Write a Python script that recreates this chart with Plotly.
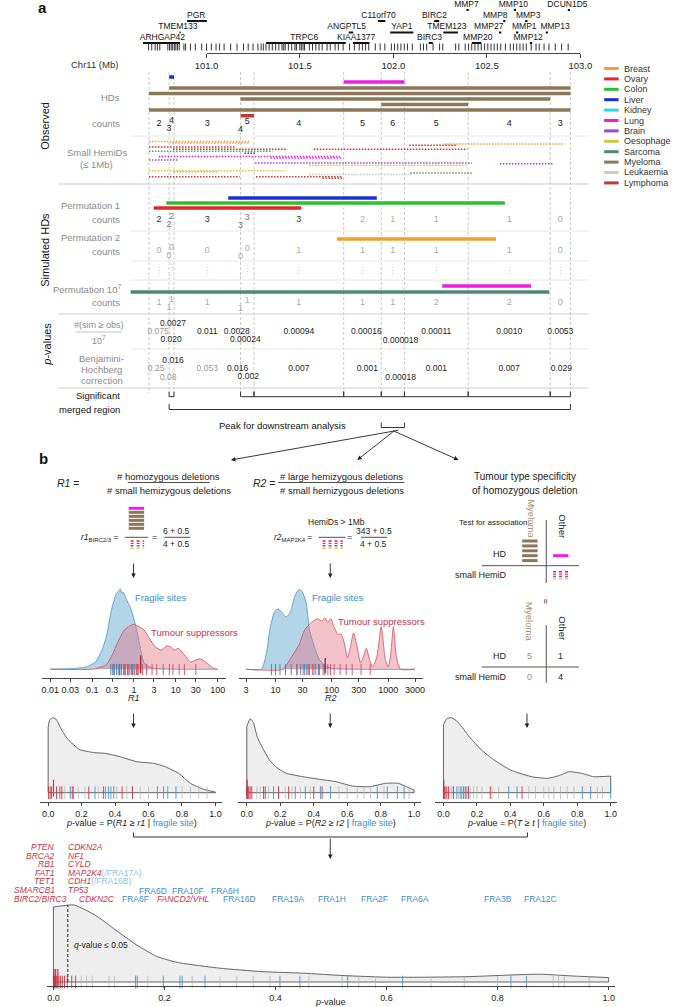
import plotly.graph_objects as go

W, H = 674, 1007
FONT = "Liberation Sans, Arial, Helvetica, sans-serif"

# ======================= DATA =======================
CANCER_TYPES = ["Breast", "Ovary", "Colon", "Liver", "Kidney", "Lung", "Brain",
                "Oesophage", "Sarcoma", "Myeloma", "Leukaemia", "Lymphoma"]

GENE_NAMES = ["MMP7", "MMP10", "DCUN1D5",
              "PGR", "C11orf70", "BIRC2", "MMP8", "MMP3",
              "TMEM133", "ANGPTL5", "YAP1", "TMEM123", "MMP27", "MMP1", "MMP13",
              "ARHGAP42", "TRPC6", "KIAA1377", "BIRC3", "MMP20", "MMP12"]
GENE_START = [102.391, 102.644, 102.933,
              100.896, 101.917, 102.218, 102.587, 102.705,
              100.855, 101.761, 101.983, 102.267, 102.565, 102.656, 102.815,
              100.660, 101.319, 101.783, 102.189, 102.420, 102.730]
GENE_END = [102.403, 102.656, 102.945,
            101.002, 101.957, 102.245, 102.599, 102.717,
            100.862, 101.785, 102.107, 102.345, 102.577, 102.668, 102.827,
            100.858, 101.745, 101.872, 102.211, 102.470, 102.742]
GENE_TRACK = [0, 0, 0, 1, 1, 1, 1, 1, 2, 2, 2, 2, 2, 2, 2, 3, 3, 3, 3, 3, 3]
GENE_RUG = [100.690, 100.707, 100.725, 100.737, 100.750, 100.793, 100.802, 100.811, 100.819,
            100.828, 100.836, 100.845, 100.854, 100.879, 100.888, 100.914, 100.940, 100.974,
            101.000, 101.026, 101.051, 101.069, 101.094, 101.129, 101.163, 101.198, 101.223,
            101.249, 101.275, 101.292, 101.304, 101.318, 101.335, 101.352, 101.370, 101.387,
            101.404, 101.413, 101.421, 101.438, 101.456, 101.473, 101.481, 101.499, 101.507,
            101.516, 101.524, 101.550, 101.567, 101.585, 101.602, 101.619, 101.645, 101.662,
            101.688, 101.705, 101.731, 101.765, 101.791, 101.817, 101.834, 101.851, 101.868,
            101.903, 101.929, 101.954, 101.989, 102.006, 102.023, 102.040, 102.058, 102.075,
            102.101, 102.144, 102.161, 102.178, 102.212, 102.247, 102.264, 102.333, 102.350,
            102.384, 102.402, 102.419, 102.436, 102.453, 102.470, 102.488, 102.505, 102.522,
            102.539, 102.556, 102.574, 102.599, 102.625, 102.642, 102.660, 102.677, 102.694,
            102.711, 102.737, 102.763, 102.780, 102.806, 102.832, 102.866, 102.900, 102.935]
AXIS_TICKS = [101.0, 101.5, 102.0, 102.5, 103.0]
AXIS_TICK_TEXT = ["101.0", "101.5", "102.0", "102.5", "103.0"]

BREAKPOINTS = [100.692, 100.800, 100.826, 101.182, 101.254, 101.734,
               101.935, 102.059, 102.400, 102.839, 102.947]

OBS_HD_TYPE = ["Liver", "Lung", "Myeloma", "Myeloma", "Myeloma", "Myeloma", "Myeloma", "Lymphoma"]
OBS_HD_START = [100.800, 101.734, 100.800, 100.692, 101.182, 101.935, 100.692, 101.182]
OBS_HD_END = [100.826, 102.059, 102.947, 102.947, 102.839, 102.400, 102.947, 101.254]

HEMI_TYPE = ["Breast", "Breast", "Breast", "Ovary", "Ovary", "Ovary", "Ovary", "Colon", "Liver",
             "Lung", "Lung", "Brain", "Brain", "Brain", "Oesophage", "Oesophage", "Oesophage",
             "Leukaemia", "Myeloma", "Lymphoma", "Lymphoma", "Lymphoma"]
HEMI_START = [100.692, 100.816, 102.271, 100.692, 100.821, 101.574, 102.085, 100.692, 101.203,
              100.744, 101.342, 100.692, 101.260, 102.570, 101.549, 100.692, 100.826,
              101.549, 102.090, 100.692, 101.265, 101.621]
HEMI_END = [101.239, 101.234, 102.916, 101.156, 101.430, 102.395, 102.343, 101.352, 101.265,
            101.714, 101.724, 100.847, 102.420, 102.859, 102.395, 101.419, 101.058,
            102.100, 102.420, 101.177, 101.729, 101.729]

PERM1_TYPE = ["Liver", "Colon", "Ovary"]
PERM1_START = [101.116, 100.785, 100.718]
PERM1_END = [101.911, 102.596, 101.507]
PERM2_TYPE = ["Breast"]
PERM2_START = [101.698]
PERM2_END = [102.549]
PERM7_TYPE = ["Lung", "Sarcoma"]
PERM7_START = [102.261, 100.594]
PERM7_END = [102.736, 102.834]

OBS_COUNTS = [2, 3, 4, 3, 4, 5, 4, 5, 6, 5, 4, 3]
PERM1_COUNTS = [2, 2, 2, 3, 3, 3, 3, 2, 1, 1, 1, 0]
PERM2_COUNTS = [0, 0, 0, 0, 0, 0, 1, 1, 1, 1, 1, 0]
PERM7_COUNTS = [1, 1, 1, 1, 1, 1, 1, 1, 1, 2, 2, 0]
EMP_P = ["0.075", "0.020", "0.0027", "0.011", "0.0028", "0.00024", "0.00094",
         "0.00016", "0.000018", "0.00011", "0.0010", "0.0053"]
BH_P = ["0.25", "0.08", "0.016", "0.053", "0.016", "0.002", "0.007",
        "0.001", "0.00018", "0.001", "0.007", "0.029"]
SIG_REGIONS = [1, 3, 4, 5, 6, 7, 8, 9]   # indices of breakpoint intervals
MERGED_REGION = (1, 10)
PEAK_REGION = (6, 7)

# ---- panel b data ----
R1_HD_TYPES = ["Lung", "Myeloma", "Myeloma", "Myeloma", "Myeloma", "Myeloma"]
R1_SMALL_TYPES = ["Ovary", "Lung", "Brain", "Oesophage"]
R2_LARGE = 343
R2_SMALL_TYPES = ["Ovary", "Lung", "Brain", "Oesophage"]
TABLE_HD = {"Myeloma": 5, "Other": 1}
TABLE_SMALL = {"Myeloma": 0, "Other": 4}

R1_TICKS = [0.01, 0.03, 0.1, 0.3, 1, 3, 10, 30, 100]
R1_TICK_TEXT = ["0.01", "0.03", "0.1", "0.3", "1", "3", "10", "30", "100"]
R2_TICKS = [3, 10, 30, 100, 300, 1000, 3000]
R2_TICK_TEXT = ["3", "10", "30", "100", "300", "1000", "3000"]

R1_FRAG_X = [0.01, 0.038, 0.074, 0.12, 0.166, 0.22, 0.29, 0.37, 0.42, 0.47, 0.52, 0.56,
             0.66, 0.82, 0.99, 1.16, 1.40, 1.74, 2.3, 3.2, 10, 100]
R1_FRAG_D = [0.0, 0.01, 0.03, 0.09, 0.22, 0.41, 0.74, 0.93, 0.97, 1.0, 0.95, 0.96,
             0.87, 0.77, 0.63, 0.49, 0.28, 0.08, 0.03, 0.01, 0.0, 0.0]
R1_TSG_X = [0.01, 0.1, 0.21, 0.29, 0.42, 0.59, 0.79, 1.0, 1.32, 1.74, 2.3, 3.2, 4.6, 6.0, 7.4,
            9.2, 11.4, 16, 22.5, 31.6, 39, 54, 71, 90, 100]
R1_TSG_D = [0.0, 0.0, 0.05, 0.16, 0.35, 0.49, 0.54, 0.56, 0.53, 0.49, 0.39, 0.28, 0.24, 0.29,
            0.28, 0.24, 0.26, 0.18, 0.09, 0.12, 0.13, 0.08, 0.03, 0.0, 0.0]
R1_RUG_FRAG = [0.28, 0.31, 0.34, 0.38, 0.42, 0.46, 0.5, 0.56, 0.62, 0.7, 0.8, 0.92, 1.05, 1.2]
R1_RUG_TSG = [0.33, 0.45, 0.6, 0.75, 0.88, 1.0, 1.15, 1.3, 1.6, 2.0, 2.7, 3.5, 5.0, 7.0,
              8.5, 12, 16, 30]

R2_FRAG_X = [3, 5.6, 6.9, 7.9, 9.4, 10.7, 12.6, 15.5, 18.5, 22, 26, 29.6, 35, 40, 49, 60,
             77, 100, 3000]
R2_FRAG_D = [0.0, 0.0, 0.2, 0.49, 0.70, 0.75, 0.72, 0.65, 0.72, 0.91, 0.995, 0.97, 0.83,
             0.49, 0.28, 0.12, 0.04, 0.01, 0.0]
R2_TSG_X = [3, 13.7, 18, 26, 33, 43, 56, 66, 75, 85, 96, 109, 130, 145, 166, 190, 214, 243,
            281, 323, 365, 410, 468, 534, 632, 754, 890, 1000, 1100, 1240, 1400, 1660, 3000]
R2_TSG_D = [0.0, 0.0, 0.12, 0.30, 0.49, 0.58, 0.63, 0.60, 0.64, 0.58, 0.63, 0.53, 0.43, 0.44,
            0.33, 0.14, 0.28, 0.45, 0.28, 0.08, 0.16, 0.26, 0.12, 0.03, 0.16, 0.53, 0.12, 0.03,
            0.16, 0.53, 0.16, 0.0, 0.0]
R2_RUG_FRAG = [8.5, 10, 12, 15, 19, 24, 28, 33, 36, 40, 48, 58, 75]
R2_RUG_TSG = [24, 31, 38, 45, 52, 60, 70, 85, 95, 110, 140, 180, 230, 330, 480]

P1_X = [0, 0.01, 0.03, 0.05, 0.08, 0.12, 0.19, 0.28, 0.34, 0.43, 0.53, 0.63, 0.70, 0.78,
        0.85, 0.93, 1.0]
P1_D = [3.25, 3.65, 3.75, 3.65, 3.15, 2.65, 2.15, 2.0, 1.97, 1.8, 1.55, 1.47, 1.3, 0.97,
        0.47, 0.17, 0.03]
P2_X = [0, 0.02, 0.04, 0.062, 0.10, 0.136, 0.18, 0.236, 0.335, 0.434, 0.533, 0.633, 0.732,
        0.831, 0.906, 0.955, 1.0]
P2_D = [3.3, 3.7, 3.5, 2.8, 2.15, 1.63, 1.25, 0.97, 0.8, 0.67, 0.55, 0.33, 0.3, 0.47, 0.47,
        0.3, 0.13]
P3_X = [0, 0.02, 0.05, 0.09, 0.154, 0.228, 0.303, 0.402, 0.526, 0.625, 0.70, 0.749, 0.824,
        0.898, 1.0]
P3_D = [3.4, 3.7, 3.75, 3.5, 2.8, 2.13, 1.63, 1.13, 0.8, 0.72, 0.88, 1.05, 0.97, 0.8, 0.83]
PALL_X = [0, 0.037, 0.075, 0.112, 0.15, 0.187, 0.225, 0.30, 0.375, 0.45, 0.524, 0.6, 0.674,
          0.75, 0.824, 0.876, 0.936, 1.0]
PALL_D = [3.75, 3.85, 3.35, 2.6, 1.85, 1.27, 0.97, 0.69, 0.52, 0.44, 0.32, 0.24, 0.24, 0.27,
          0.35, 0.39, 0.3, 0.22]

P1_RUG_TSG = [0.002, 0.012, 0.02, 0.05, 0.07, 0.082, 0.144, 0.243, 0.33, 0.442, 0.504]
P1_RUG_FRAG = [0.132, 0.151, 0.28, 0.342, 0.36, 0.375, 0.392, 0.504, 0.653, 0.69, 0.715, 0.764]
P1_RUG_OTHER = [0.1, 0.18, 0.22, 0.3, 0.41, 0.47, 0.55, 0.6, 0.8, 0.85, 0.9, 0.95]
P1_TSG_TALL = [0.032]
P2_RUG_TSG = [0.0, 0.003, 0.007, 0.012, 0.02, 0.03, 0.1, 0.11, 0.19, 0.25, 0.4, 0.45]
P2_RUG_FRAG = [0.16, 0.19, 0.29, 0.35, 0.44, 0.5, 0.78, 0.84, 0.9, 0.94]
P2_RUG_OTHER = [0.06, 0.08, 0.13, 0.23, 0.27, 0.32, 0.38, 0.55, 0.6, 0.66, 0.7, 0.74, 0.82, 0.97]
P2_TSG_TALL = [0.002]
P3_RUG_TSG = [0.0, 0.002, 0.005, 0.01, 0.02, 0.03, 0.06, 0.13, 0.15, 0.28, 0.47]
P3_RUG_FRAG = [0.08, 0.1, 0.11, 0.12, 0.14, 0.39, 0.44, 0.83, 0.88, 1.0]
P3_RUG_OTHER = [0.04, 0.05, 0.06, 0.09, 0.16, 0.18, 0.2, 0.23, 0.29, 0.33, 0.51, 0.55, 0.6,
                0.63, 0.66, 0.7, 0.74, 0.78, 0.92, 0.95]
P3_TSG_TALL = [0.002]
PALL_RUG_TSG = [0.0, 0.001, 0.002, 0.003, 0.005, 0.007, 0.01, 0.013, 0.016, 0.02, 0.025,
                0.033, 0.04]
PALL_RUG_FRAG = [0.148, 0.151, 0.198, 0.228, 0.232, 0.273, 0.408, 0.444, 0.53, 0.629, 0.824,
                 0.852]
PALL_RUG_OTHER = [0.05, 0.06, 0.07, 0.1, 0.11, 0.17, 0.25, 0.3, 0.33, 0.36, 0.39, 0.46, 0.52,
                  0.55, 0.58, 0.68, 0.74, 0.8, 0.9, 0.91, 0.92, 0.965]
PALL_TSG_TALL = [0.001, 0.004, 0.008]
Q_THRESHOLD_P = 0.026

TSG_LEFT = ["PTEN", "BRCA2", "RB1", "FAT1", "TET1", "SMARCB1", "BIRC2/BIRC3"]
TSG_RIGHT = ["CDKN2A", "NF1", "CYLD", "MAP2K4", "CDH1", "TP53", ""]
TSG_RIGHT_FRA = ["", "", "", "(/FRA17A)", "(/FRA16B)", "", ""]
FRA_ROW1 = ["FRA6D", "FRA10F", "FRA6H"]
FRA_ROW2 = ["FRA6F", "FANCD2/VHL", "FRA16D", "FRA19A", "FRA1H", "FRA2F", "FRA6A",
            "FRA3B", "FRA12C"]

# ======================= STYLE / LAYOUT CONSTANTS =======================
COL = {"Breast": "#f5a02a", "Ovary": "#e3262b", "Colon": "#2dbf2d", "Liver": "#1a2fd6",
       "Kidney": "#2ad8e8", "Lung": "#ee1ee0", "Brain": "#a044d6", "Oesophage": "#cfc83c",
       "Sarcoma": "#4d8a72", "Myeloma": "#8d7759", "Leukaemia": "#c9c9c9",
       "Lymphoma": "#bf3b33"}
FRAG_BLUE = "#3b8fc6"
TSG_RED = "#cc3344"
GREY_TXT = "#8a8a8a"
TAN = "#a48e6e"
GENE_LABEL_Y = [4.5, 15.5, 27, 38]
GENE_BAR_Y = [10, 21, 32.5, 43]
GENE_LABEL_SHIFT = {"MMP7": -0.006, "MMP10": -0.008, "DCUN1D5": -0.008, "PGR": -0.004,
                    "C11orf70": -0.017, "BIRC2": -0.012, "MMP8": -0.048, "MMP3": 0.01,
                    "TMEM133": -0.012, "ANGPTL5": -0.023, "TMEM123": -0.02, "MMP27": -0.061,
                    "MMP1": 0.038, "MMP13": 0.044, "ARHGAP42": 0.005, "TRPC6": -0.009,
                    "KIAA1377": -0.027, "BIRC3": -0.007, "MMP20": 0.006, "MMP12": -0.015}
OBS_HD_Y = [77, 82, 88, 93.5, 99, 104.5, 110, 115.7]
HEMI_Y = [141.5, 143, 144, 147, 149.2, 149.2, 145.3, 151.3, 153.2, 156.5, 158, 160, 163,
          163.7, 165.5, 170.7, 171.8, 174.5, 173, 176.8, 176.8, 178.2]
PERM1_Y = [198, 203, 208]
PERM2_Y = [239]
PERM7_Y = [286, 292]
PX_PER_MB = 193.8

fig = go.Figure()


def add_line(xs, ys, color, width, dash=None, xa="x", ya="y", shape="linear", fill=None,
             fillcolor=None, smoothing=None):
    ln = dict(color=color, width=width, shape=shape)
    if dash:
        ln["dash"] = dash
    if smoothing is not None:
        ln["smoothing"] = smoothing
    kw = {}
    if fill:
        kw["fill"] = fill
        kw["fillcolor"] = fillcolor
    fig.add_trace(go.Scatter(x=xs, y=ys, mode="lines", line=ln, xaxis=xa, yaxis=ya,
                             hoverinfo="skip", showlegend=False, **kw))


def add_text(xs, ys, texts, colors, size=9, xa="x", ya="y", italic=False):
    fig.add_trace(go.Scatter(x=xs, y=ys, mode="text", text=texts,
                             textfont=dict(family=FONT, size=size, color=colors,
                                           style="italic" if italic else "normal"),
                             textposition="middle center", xaxis=xa, yaxis=ya,
                             hoverinfo="skip", showlegend=False, cliponaxis=False))


def add_rug(xs, y, color, size, xa, ya, width=1.0):
    fig.add_trace(go.Scatter(x=xs, y=[y] * len(xs), mode="markers",
                             marker=dict(symbol="line-ns", size=size,
                                         line=dict(width=width, color=color)),
                             xaxis=xa, yaxis=ya, hoverinfo="skip", showlegend=False,
                             cliponaxis=False))


ann = []
shapes = []


def A(x, y, text, size=9, color="#222", xa="center", ya="middle", angle=0):
    ann.append(dict(x=x / W, y=1 - y / H, xref="paper", yref="paper", text=text,
                    showarrow=False, font=dict(family=FONT, size=size, color=color),
                    xanchor=xa, yanchor=ya, textangle=angle))


def ARROW(x0, y0, x1, y1, width=0.9):
    ann.append(dict(x=x1 / W, y=1 - y1 / H, xref="paper", yref="paper", ax=x0 - x1,
                    ay=y0 - y1, axref="pixel", ayref="pixel", showarrow=True, arrowhead=2,
                    arrowsize=1, arrowwidth=width, arrowcolor="#222", text=""))


def L(x0, y0, x1, y1, color="#222", width=0.8, dash=None):
    ln = dict(color=color, width=width)
    if dash:
        ln["dash"] = dash
    shapes.append(dict(type="line", xref="paper", yref="paper", x0=x0 / W, x1=x1 / W,
                       y0=1 - y0 / H, y1=1 - y1 / H, line=ln))


# ======================= PANEL A =======================
A(32, 8, "<b>a</b>", size=15, color="#111")

# breakpoint dashed lines
xs, ys = [], []
for b in BREAKPOINTS:
    xs += [b, b, None]
    ys += [72, 393, None]
add_line(xs, ys, "#bdbdbd", 0.8, dash="3px,2px")

# genes
xs, ys = [], []
for s, e, t in zip(GENE_START, GENE_END, GENE_TRACK):
    xs += [s, e, None]
    ys += [GENE_BAR_Y[t], GENE_BAR_Y[t], None]
add_line(xs, ys, "#111", 2)
add_text([(s + e) / 2 + GENE_LABEL_SHIFT.get(n, 0) for n, s, e in zip(GENE_NAMES, GENE_START, GENE_END)],
         [GENE_LABEL_Y[t] for t in GENE_TRACK], GENE_NAMES, "#111", size=8.5)
add_rug(GENE_RUG, 47, "#333", 5, "x", "y", width=1)

# genomic axis (dummy trace for axis x2)
fig.add_trace(go.Scatter(x=[101], y=[-50], xaxis="x2", yaxis="y", mode="markers",
                         marker=dict(opacity=0), hoverinfo="skip", showlegend=False))
A(86, 65, "Chr11 (Mb)", size=9.5, color="#333")

# observed HDs
for t, s, e, y in zip(OBS_HD_TYPE, OBS_HD_START, OBS_HD_END, OBS_HD_Y):
    add_line([s, e], [y, y], COL[t], 3.5)
# small hemizygous deletions
for t, s, e, y in zip(HEMI_TYPE, HEMI_START, HEMI_END, HEMI_Y):
    add_line([s, e], [y, y], COL[t], 1.6, dash="1.5px,1.5px")
# simulated HDs
for T_, S_, E_, Y_ in [(PERM1_TYPE, PERM1_START, PERM1_END, PERM1_Y),
                       (PERM2_TYPE, PERM2_START, PERM2_END, PERM2_Y),
                       (PERM7_TYPE, PERM7_START, PERM7_END, PERM7_Y)]:
    for t, s, e, y in zip(T_, S_, E_, Y_):
        add_line([s, e], [y, y], COL[t], 3.5)

# label slots from breakpoints
mids = [(BREAKPOINTS[i] + BREAKPOINTS[i + 1]) / 2 for i in range(10)]
SLOT_X = [mids[0], BREAKPOINTS[1], mids[1], mids[2], BREAKPOINTS[3], mids[3]] + mids[4:]
COUNT_DY = [0, 5, -3, 0, 6, -2, 0, 0, 0, 0, 0, 0]
add_text(SLOT_X, [124 + d for d in COUNT_DY], [str(c) for c in OBS_COUNTS], "#222", size=9)
p1_cols = ["#333", "#777", "#777", "#333", "#777", "#777", "#333"] + ["#aaa"] * 5
add_text(SLOT_X, [220 + d for d in COUNT_DY], [str(c) for c in PERM1_COUNTS], p1_cols, size=9)
add_text(SLOT_X, [251 + d for d in COUNT_DY], [str(c) for c in PERM2_COUNTS], "#aaa", size=9)
add_text(SLOT_X, [303 + d for d in COUNT_DY], [str(c) for c in PERM7_COUNTS], "#aaa", size=9)
add_text(SLOT_X, [272 + d for d in COUNT_DY], ["\u22ee"] * 12, "#c4c4c4", size=9)

EMP_DX = [-1, 2, 1.5, 0, -4, -2, 0, 4, 8, 0, 0, 0]
EMP_DY = [0, 8, -8, 0, 0, 8, 0, 0, 9, 0, 0, 0]
BH_DX = [-3, -1, 1.5, 0, -3, 1, 0, 5, 8, 0, 0, 1]
BH_DY = [0, 9, -8, 0, 0, 8, 0, 0, 9, 0, 0, 0]
emp_cols = ["#999"] + ["#222"] * 11
bh_cols = ["#999", "#999", "#222", "#999"] + ["#222"] * 8
add_text([x + d / PX_PER_MB for x, d in zip(SLOT_X, EMP_DX)], [332 + d for d in EMP_DY],
         EMP_P, emp_cols, size=8.5)
add_text([x + d / PX_PER_MB for x, d in zip(SLOT_X, BH_DX)], [369 + d for d in BH_DY],
         BH_P, bh_cols, size=8.5)

# significance brackets
xs, ys = [], []
for i in SIG_REGIONS:
    a, b = BREAKPOINTS[i], BREAKPOINTS[i + 1]
    xs += [a, a, b, b, None]
    ys += [391.5, 396.7, 396.7, 391.5, None]
add_line(xs, ys, "#333", 1)
a, b = BREAKPOINTS[MERGED_REGION[0]], BREAKPOINTS[MERGED_REGION[1]]
add_line([a, a, b, b], [404, 409.5, 409.5, 404], "#333", 1)
a, b = BREAKPOINTS[PEAK_REGION[0]], BREAKPOINTS[PEAK_REGION[1]]
add_line([a, a, b, b], [422.5, 427.5, 427.5, 422.5], "#333", 1)
A(280, 425, "Peak for downstream analysis", size=9.5, color="#111")

# separators
for y in [136, 231, 261, 280, 349]:
    L(123, y, 598, y, color="#e8e8e8", width=1)
for y in [184, 314, 388]:
    L(48, y, 598, y, color="#cfcfcf", width=1)

# row labels
A(114, 97, "HDs", size=9.5, color=GREY_TXT, xa="right")
for y in [124, 220, 251, 303]:
    A(114, y, "counts", size=9.5, color=GREY_TXT, xa="right")
A(88, 153, "Small HemiDs", size=9.5, color=GREY_TXT)
A(88, 164, "(\u2264 1Mb)", size=9.5, color=GREY_TXT)
A(114, 205, "Permutation 1", size=9.5, color=GREY_TXT, xa="right")
A(114, 237, "Permutation 2", size=9.5, color=GREY_TXT, xa="right")
A(115, 289, "Permutation 10<sup>7</sup>", size=9.5, color=GREY_TXT, xa="right")
A(90, 325.5, "#(sim \u2265 obs)", size=9, color=GREY_TXT)
L(66, 332, 114, 332, color="#aaa", width=0.7)
A(90, 340, "10<sup>7</sup>", size=9, color=GREY_TXT)
A(93, 358, "Benjamini-", size=9.5, color=GREY_TXT)
A(93, 369, "Hochberg", size=9.5, color=GREY_TXT)
A(93, 380, "correction", size=9.5, color=GREY_TXT)
A(114, 395, "Significant", size=9.5, color="#111", xa="right")
A(114, 409, "merged region", size=9.5, color="#111", xa="right")
A(34, 126, "Observed", size=11, color="#111", angle=-90)
A(34, 250, "Simulated HDs", size=11, color="#111", angle=-90)
A(36, 344, "<i>p</i>-values", size=11, color="#111", angle=-90)

# legend
for i, t in enumerate(CANCER_TYPES):
    y = 68.5 + 10.4 * i
    L(614, y, 629, y, color=COL[t], width=3)
    A(633, y, t, size=9, color="#333", xa="left")

# ======================= PANEL B =======================
A(33, 459, "<b>b</b>", size=15, color="#111")
for tx in [227, 358, 463]:
    ARROW(396, 430, tx, 460)

# R1 formula
A(59, 483, "<i>R1</i> =", size=10.5)
A(162.5, 476, "# homozygous deletions", size=9.5)
L(120, 482.5, 205, 482.5, width=0.8)
A(162.5, 490, "# small hemizygous deletions", size=9.5)
# R2 formula
A(262, 483, "<i>R2</i> =", size=10.5)
A(342, 476, "# large hemizygous deletions", size=9.5)
L(276, 482.5, 407, 482.5, width=0.8)
A(342, 490, "# small hemizygous deletions", size=9.5)
# tumour type title
A(532, 477, "Tumour type specificity", size=10)
A(532, 490, "of homozygous deletion", size=10)

# r1 illustration
for i, t in enumerate(R1_HD_TYPES):
    y = 508.3 + 4.0 * i
    L(121, y, 137, y, color=COL[t], width=3)
L(117, 537.3, 141, 537.3, width=0.8)
for i, t in enumerate(R1_SMALL_TYPES):
    y = 541 + 2.4 * i
    L(123, y, 137, y, color=COL[t], width=1.4, dash="dot")
A(112, 537, "<i>r1</i><sub>BIRC2/3</sub> =", size=8.5, xa="right")
A(148, 537, "=", size=9)
A(171, 531, "%d + 0.5" % len(R1_HD_TYPES), size=8.5)
L(158, 537.3, 185, 537.3, width=0.8)
A(171, 543.5, "%d + 0.5" % len(R1_SMALL_TYPES), size=8.5)

# r2 illustration
A(336, 522, "HemiDs > 1Mb", size=8.5)
L(318, 537.3, 346, 537.3, width=0.8)
for i, t in enumerate(R2_SMALL_TYPES):
    y = 541 + 2.4 * i
    L(322, y, 343, y, color=COL[t], width=1.4, dash="dot")
A(313, 537, "<i>r2</i><sub>MAP2K4</sub> =", size=8.5, xa="right")
A(350, 537, "=", size=9)
A(375, 531, "%d + 0.5" % R2_LARGE, size=8.5)
L(362, 537.3, 389, 537.3, width=0.8)
A(375, 543.5, "%d + 0.5" % len(R2_SMALL_TYPES), size=8.5)

ARROW(126, 562, 126, 578)
ARROW(330, 562, 330, 578)

# association table (glyph version)
A(500, 522, "Test for association:", size=8)
A(539, 519, "Myeloma", size=9.5, color=TAN, angle=90)
A(571, 526, "Other", size=9.5, color="#222", angle=90)
for i in range(TABLE_HD["Myeloma"]):
    y = 541 + 4.9 * i
    L(529, y, 545, y, color=COL["Myeloma"], width=3)
for i in range(TABLE_HD["Other"]):
    L(561, 555.7, 577, 555.7, color=COL["Lung"], width=3)
for i in range(TABLE_SMALL["Other"]):
    y = 571.7 + 2.4 * i
    L(561, y, 577, y, color=COL[R1_SMALL_TYPES[i]], width=1.4, dash="dot")
A(515, 554, "HD", size=9, xa="right")
A(515, 575, "small HemiD", size=9, xa="right")
L(487, 565.7, 588, 565.7, color="#555", width=1)
L(554, 520, 554, 583, color="#555", width=1)
A(554, 601, "=", size=9, angle=90)

# association table (numbers)
A(537, 622, "Myeloma", size=9.5, color=TAN, angle=90)
A(571, 628, "Other", size=9.5, color="#222", angle=90)
L(554, 625, 554, 683, color="#555", width=1)
L(487, 667, 588, 667, color="#555", width=1)
A(515, 656, "HD", size=9, xa="right")
A(537, 656, str(TABLE_HD["Myeloma"]), size=9, color=TAN)
A(569, 656, str(TABLE_HD["Other"]), size=9)
A(515, 677, "small HemiD", size=9, xa="right")
A(537, 677, str(TABLE_SMALL["Myeloma"]), size=9, color=TAN)
A(569, 677, str(TABLE_SMALL["Other"]), size=9)

# R1 density plot
FRAG_FILL = "rgba(116,178,214,0.55)"
TSG_FILL = "rgba(226,112,128,0.42)"
add_line(R1_FRAG_X, R1_FRAG_D, "#4b93c3", 0.8, xa="x3", ya="y3", shape="spline",
         fill="tozeroy", fillcolor=FRAG_FILL, smoothing=0.6)
add_line(R1_TSG_X, R1_TSG_D, "#d64a5c", 0.8, xa="x3", ya="y3", shape="spline",
         fill="tozeroy", fillcolor=TSG_FILL, smoothing=0.6)
add_rug(R1_RUG_FRAG, -0.005, "#3d7fb0", 8, "x3", "y3", 0.9)
add_rug(R1_RUG_TSG, -0.005, "#d24a5e", 8, "x3", "y3", 0.9)
r1_val = (len(R1_HD_TYPES) + 0.5) / (len(R1_SMALL_TYPES) + 0.5)
add_line([r1_val, r1_val], [-0.05, 0.17], "#a8202e", 1.3, xa="x3", ya="y3")
A(125, 597, "Fragile sites", size=9.5, color=FRAG_BLUE, xa="left")
A(142, 632, "Tumour suppressors", size=9.5, color="#c8334a", xa="left")
A(126, 698, "<i>R1</i>", size=9)

# R2 density plot
add_line(R2_FRAG_X, R2_FRAG_D, "#4b93c3", 0.8, xa="x4", ya="y4", shape="spline",
         fill="tozeroy", fillcolor=FRAG_FILL, smoothing=0.6)
add_line(R2_TSG_X, R2_TSG_D, "#d64a5c", 0.8, xa="x4", ya="y4", shape="spline",
         fill="tozeroy", fillcolor=TSG_FILL, smoothing=0.6)
add_rug(R2_RUG_FRAG, -0.005, "#3d7fb0", 8, "x4", "y4", 0.9)
add_rug(R2_RUG_TSG, -0.005, "#d24a5e", 8, "x4", "y4", 0.9)
r2_val = (R2_LARGE + 0.5) / (len(R2_SMALL_TYPES) + 0.5)
add_line([r2_val, r2_val], [-0.05, 0.14], "#a8202e", 1.3, xa="x4", ya="y4")
A(309, 597, "Fragile sites", size=9.5, color=FRAG_BLUE, xa="left")
A(336, 621, "Tumour suppressors", size=9.5, color="#c8334a", xa="left")
A(330.6, 698, "<i>R2</i>", size=9)

ARROW(126, 712, 126, 728)
ARROW(330, 712, 330, 728)
ARROW(534, 712, 534, 728)

# p-value density plots
P_SETS = [(P1_X, P1_D, P1_RUG_TSG, P1_RUG_FRAG, P1_RUG_OTHER, P1_TSG_TALL, "x5", "y5"),
          (P2_X, P2_D, P2_RUG_TSG, P2_RUG_FRAG, P2_RUG_OTHER, P2_TSG_TALL, "x6", "y6"),
          (P3_X, P3_D, P3_RUG_TSG, P3_RUG_FRAG, P3_RUG_OTHER, P3_TSG_TALL, "x7", "y7"),
          (PALL_X, PALL_D, PALL_RUG_TSG, PALL_RUG_FRAG, PALL_RUG_OTHER, PALL_TSG_TALL,
           "x8", "y8")]
for px_, pd_, rt, rf, ro, tall, xa, ya in P_SETS:
    # filled smooth density
    add_line(px_, pd_, "#555", 0.9, xa=xa, ya=ya, shape="spline", fill="tozeroy",
             fillcolor="#eeeeee", smoothing=0.5)
    # closing edges of the density (left, baseline, right)
    add_line([px_[0], px_[0], px_[-1], px_[-1]], [pd_[0], 0, 0, pd_[-1]], "#555", 0.9,
             xa=xa, ya=ya)
    add_rug(ro, 0, "#b0b0b0", 9, xa, ya, 0.7)
    add_rug(rf, 0, "#4b93c3", 9, xa, ya, 0.9)
    add_rug(rt, 0, "#cc3344", 9, xa, ya, 0.9)
    for t in tall:
        add_line([t, t], [-0.2, 0.65], "#cc3344", 1.2, xa=xa, ya=ya)

A(124, 823, "<i>p</i>-value = P(<i>R1</i> \u2265 <i>r1</i> | <span style='color:%s'>fragile site</span>)" % FRAG_BLUE, size=9)
A(330, 823, "<i>p</i>-value = P(<i>R2</i> \u2265 <i>r2</i> | <span style='color:%s'>fragile site</span>)" % FRAG_BLUE, size=9)
A(534, 823, "<i>p</i>-value = P(<i>T</i> \u2265 <i>t</i> | <span style='color:%s'>fragile site</span>)" % FRAG_BLUE, size=9)
L(126, 837, 534.5, 837, color="#333", width=1)
L(126, 832.5, 126, 837, color="#333", width=1)
L(534.5, 832.5, 534.5, 837, color="#333", width=1)
ARROW(330, 837, 330, 859)

# gene / fragile site labels
for i, g in enumerate(TSG_LEFT):
    y = 847 + 8.6 * i
    xr = 59 if g == "BIRC2/BIRC3" else 47
    A(xr, y, "<i>%s</i>" % g, size=8.5, color=TSG_RED, xa="right")
for i, (g, f) in enumerate(zip(TSG_RIGHT, TSG_RIGHT_FRA)):
    if not g:
        continue
    y = 847 + 8.6 * i
    txt = "<i>%s</i>" % g
    if f:
        txt += "<span style='color:#8ec3e6'>%s</span>" % f
    A(56, y, txt, size=8.5, color=TSG_RED, xa="left")
A(67, 898.6, "<i>CDKN2C</i>", size=8.5, color=TSG_RED, xa="left")
for name, x in zip(FRA_ROW1, [146.5, 183, 221]):
    A(x, 890.5, name, size=8.5, color=FRAG_BLUE)
for name, x in zip(FRA_ROW2, [128, 177.6, 236, 286.6, 332, 376, 418, 504, 548]):
    if name == "FANCD2/VHL":
        A(x, 899, "<i>%s</i>" % name, size=8.5, color=TSG_RED)
    else:
        A(x, 899, name, size=8.5, color=FRAG_BLUE)

add_line([Q_THRESHOLD_P, Q_THRESHOLD_P], [0, 3.85], "#222", 1, dash="3px,2px", xa="x8", ya="y8")
A(62, 945, "<i>q</i>-value \u2264 0.05", size=8.5, xa="left")
A(330.6, 1002, "<i>p</i>-value", size=9)

# ======================= AXES =======================
def dx(a, b):
    return [a / W, b / W]


def dy(top, bottom):
    return [1 - bottom / H, 1 - top / H]


AX = dict(showline=True, linecolor="#444", linewidth=1, ticks="outside", ticklen=3,
          tickwidth=0.8, tickcolor="#444", showgrid=False, zeroline=False,
          tickfont=dict(family=FONT, size=9, color="#222"))
HID = dict(visible=False, showgrid=False, zeroline=False)

p_ticks = dict(tickvals=[0, 0.2, 0.4, 0.6, 0.8, 1.0],
               ticktext=["0.0", "0.2", "0.4", "0.6", "0.8", "1.0"])

layout = dict(
    width=W, height=H, margin=dict(l=0, r=0, t=0, b=0), paper_bgcolor="white",
    plot_bgcolor="rgba(0,0,0,0)", showlegend=False,
    font=dict(family=FONT, size=9, color="#222"),
    xaxis=dict(domain=dx(104.8, 599), range=[100.5, 103.05], anchor="y", **HID),
    yaxis=dict(domain=[0, 1], range=[H, 0], anchor="x", **HID),
    xaxis2=dict(domain=dx(201.7, 589.3), range=[101, 103], anchor="free",
                position=1 - 53 / H, tickvals=AXIS_TICKS, ticktext=AXIS_TICK_TEXT,
                **{**AX, "ticklen": 4, "tickfont": dict(family=FONT, size=9.5, color="#222")}),
    xaxis3=dict(domain=dx(31, 222), type="log", range=[-2.2, 2.2], anchor="y3",
                tickvals=R1_TICKS, ticktext=R1_TICK_TEXT, **AX),
    yaxis3=dict(domain=dy(585, 678), range=[-0.11, 1.05], anchor="x3", **HID),
    xaxis4=dict(domain=dx(235, 426), type="log", range=[0.345, 3.616], anchor="y4",
                tickvals=R2_TICKS, ticktext=R2_TICK_TEXT, **AX),
    yaxis4=dict(domain=dy(585, 678), range=[-0.11, 1.05], anchor="x4", **HID),
    xaxis5=dict(domain=dx(28.8, 217.9), range=[-0.05, 1.04], anchor="y5", **p_ticks, **AX),
    yaxis5=dict(domain=dy(712, 802), range=[-0.465, 4.035], anchor="x5", **HID),
    xaxis6=dict(domain=dx(234.8, 423.9), range=[-0.05, 1.04], anchor="y6", **p_ticks, **AX),
    yaxis6=dict(domain=dy(712, 802), range=[-0.465, 4.035], anchor="x6", **HID),
    xaxis7=dict(domain=dx(438.7, 627.8), range=[-0.05, 1.04], anchor="y7", **p_ticks, **AX),
    yaxis7=dict(domain=dy(712, 802), range=[-0.465, 4.035], anchor="x7", **HID),
    xaxis8=dict(domain=dx(36.6, 625), range=[-0.011, 1.011], anchor="y8", **p_ticks, **AX),
    yaxis8=dict(domain=dy(895, 986), range=[-0.2, 4.35], anchor="x8", **HID),
    annotations=ann,
    shapes=shapes,
)
fig.update_layout(**layout)
fig.write_html("out.html", config={"displayModeBar": False},
               post_script="document.body.style.margin='0';document.body.style.padding='0';"
                           "document.documentElement.style.overflow='hidden';")
